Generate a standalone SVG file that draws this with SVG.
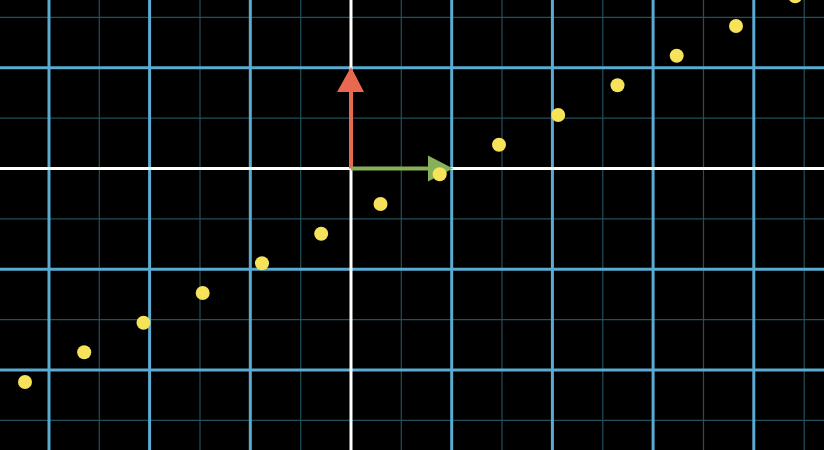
<svg xmlns="http://www.w3.org/2000/svg" width="824" height="450" viewBox="0 0 824 450">
<style>
.minor{stroke:#22505b;stroke-width:1.2;fill:none}
.major{stroke:#5aaad2;stroke-width:3;fill:none}
.axis{stroke:#ffffff;stroke-width:3;fill:none}
.dot{fill:#f7e35a}
</style>
<rect width="824" height="450" fill="#000"/>
<g id="minor-grid">
<path class="minor" d="M99.3 0V450M200 0V450M300.7 0V450M401.3 0V450M502 0V450M602.8 0V450M703.5 0V450M804.2 0V450M0 17.4H824M0 118.2H824M0 218.9H824M0 319.6H824M0 420.3H824"/>
</g>
<g id="major-grid">
<path class="major" d="M49 0V450M149.6 0V450M250.3 0V450M451.7 0V450M552.4 0V450M653.1 0V450M753.8 0V450M0 67.8H824M0 269.2H824M0 369.9H824"/>
</g>
<g id="axes">
<path class="axis" d="M351 0V450M0 168.5H824"/>
</g>
<g id="vector-j">
<path d="M351 168.5V90" stroke="#e8694f" stroke-width="4"/>
<polygon points="351,67 364,92 337,92" fill="#e8694f"/>
</g>
<g id="vector-i">
<path d="M351 168.5H430" stroke="#87b05a" stroke-width="4"/>
<polygon points="453,168.5 428,155.5 428,181.5" fill="#87b05a"/>
</g>
<g id="dots">
<circle class="dot" cx="25" cy="382" r="7"/>
<circle class="dot" cx="84.2" cy="352.3" r="7"/>
<circle class="dot" cx="143.5" cy="322.7" r="7"/>
<circle class="dot" cx="202.7" cy="293" r="7"/>
<circle class="dot" cx="262" cy="263.3" r="7"/>
<circle class="dot" cx="321.2" cy="233.7" r="7"/>
<circle class="dot" cx="380.5" cy="204" r="7"/>
<circle class="dot" cx="439.7" cy="174.3" r="7"/>
<circle class="dot" cx="499" cy="144.7" r="7"/>
<circle class="dot" cx="558.2" cy="115" r="7"/>
<circle class="dot" cx="617.5" cy="85.3" r="7"/>
<circle class="dot" cx="676.7" cy="55.7" r="7"/>
<circle class="dot" cx="736" cy="26" r="7"/>
<circle class="dot" cx="795.2" cy="-3.7" r="7"/>
</g>
</svg>
